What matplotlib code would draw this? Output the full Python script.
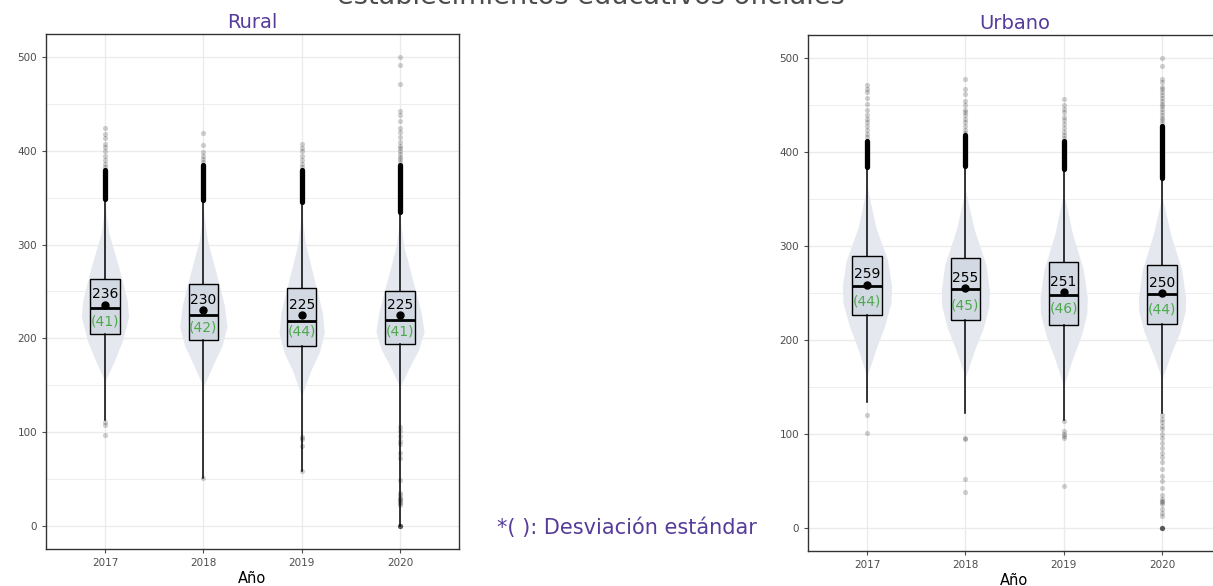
import numpy as np
import matplotlib.pyplot as plt

plt.rcParams['font.family'] = ['DejaVu Sans']

anios = ["2017", "2018", "2019", "2020"]

# ---- Rural ----
rural_media = [236, 230, 225, 225]
rural_de = [41, 42, 44, 41]
rural_q1 = [204.7, 198.3, 192, 194]
rural_mediana = [232, 225, 219, 219.6]
rural_q3 = [263, 258, 253.4, 251]
rural_bigote_inf = [113, 51, 58, 0]
rural_bigote_sup = [349, 348, 346, 335]
rural_denso_sup = [380, 385, 380, 385]  # zona de atipicos superpuestos
rural_atipicos = [
    [97, 107, 111, 383, 386, 390, 395, 400, 404, 408, 414, 418, 425],
    [51, 388, 391, 395, 399, 406, 419],
    [58, 85, 92, 95, 383, 386, 390, 395, 400, 403, 407],
    [0, 0, 0, 0, 0, 22, 24, 25, 27, 28, 30, 33, 35, 49, 72, 77, 87, 90, 96, 101, 105,
     388, 391, 394, 397, 400, 403, 405, 410, 415, 420, 425, 432, 438, 443, 472, 492, 500],
]
rural_violin_y = [
    [154, 177, 198, 223, 241, 276, 312, 342],
    [148, 172, 192, 212, 235, 270, 305, 337],
    [138, 165, 185, 206, 228, 262, 300, 333],
    [148, 170, 188, 207, 228, 262, 298, 328],
]
rural_violin_ancho = [
    [0, 0.10, 0.18, 0.24, 0.225, 0.14, 0.04, 0],
    [0, 0.10, 0.19, 0.24, 0.215, 0.13, 0.04, 0],
    [0, 0.09, 0.18, 0.23, 0.21, 0.13, 0.04, 0],
    [0, 0.10, 0.19, 0.245, 0.215, 0.13, 0.04, 0],
]

# ---- Urbano ----
urbano_media = [259, 255, 251, 250]
urbano_de = [44, 45, 46, 44]
urbano_q1 = [227, 220.8, 215.8, 217.3]
urbano_mediana = [258, 254, 248, 248.5]
urbano_q3 = [290, 287, 283, 280]
urbano_bigote_inf = [134, 122, 115, 122]
urbano_bigote_sup = [384, 385, 382, 373]
urbano_denso_sup = [412, 418, 412, 428]
urbano_atipicos = [
    [101, 120, 416, 420, 424, 428, 432, 436, 440, 445, 452, 458, 464, 468, 472],
    [38, 52, 94, 96, 421, 424, 428, 432, 436, 440, 443, 445, 450, 455, 462, 468, 478],
    [44, 95, 98, 100, 103, 114, 415, 418, 422, 426, 430, 434, 438, 443, 446, 450, 457],
    [0, 0, 0, 0, 0, 12, 16, 20, 25, 27, 28, 30, 35, 42, 50, 55, 62, 70, 75, 80, 85,
     90, 95, 100, 105, 108, 112, 116, 120, 431, 434, 437, 440, 443, 446, 449, 452,
     455, 458, 461, 464, 467, 470, 475, 478, 492, 501],
]
urbano_violin_y = [
    [161, 190, 215, 240, 258, 285, 320, 364],
    [160, 188, 212, 236, 252, 280, 318, 360],
    [151, 180, 205, 228, 245, 275, 313, 357],
    [158, 185, 208, 230, 245, 275, 312, 353],
]
urbano_violin_ancho = [
    [0, 0.09, 0.18, 0.245, 0.25, 0.21, 0.09, 0],
    [0, 0.09, 0.18, 0.24, 0.245, 0.21, 0.09, 0],
    [0, 0.09, 0.18, 0.235, 0.24, 0.20, 0.09, 0],
    [0, 0.09, 0.18, 0.235, 0.24, 0.20, 0.09, 0],
]

morado = '#553c9a'
verde = '#4caa4c'
gris_texto = '#4d4d4d'


def dibujar_panel(ax, titulo, media, de, q1, mediana, q3, b_inf, b_sup, denso,
                  atipicos, violin_y, violin_ancho):
    pos = np.arange(1, len(anios) + 1)

    # violines
    for p, vy, vw in zip(pos, violin_y, violin_ancho):
        vw = np.array(vw)
        ax.fill_betweenx(vy, p - vw, p + vw, color='#e5e8ef', lw=0, zorder=1)

    # zona densa de atipicos (puntos superpuestos)
    for p, lo, hi in zip(pos, b_sup, denso):
        ax.plot([p, p], [lo, hi], color='black', lw=3.8, solid_capstyle='round', zorder=3)

    # atipicos sueltos
    for p, vals in zip(pos, atipicos):
        ax.scatter([p] * len(vals), vals, s=14, color='black', alpha=0.18,
                   linewidths=0, zorder=3)

    stats = []
    for i in range(len(anios)):
        stats.append(dict(med=mediana[i], q1=q1[i], q3=q3[i], whislo=b_inf[i],
                          whishi=b_sup[i], mean=media[i], fliers=[]))
    ax.bxp(stats, positions=pos, widths=0.3, patch_artist=True, showfliers=False,
           showcaps=False, showmeans=True, manage_ticks=False,
           boxprops=dict(facecolor='#d2d9e2', edgecolor='black', lw=1),
           medianprops=dict(color='black', lw=2),
           whiskerprops=dict(color='black', lw=1.1),
           meanprops=dict(marker='o', markerfacecolor='black', markeredgecolor='black',
                          markersize=5),
           zorder=4)

    for p, m, d in zip(pos, media, de):
        ax.text(p, m + 11, str(m), ha='center', va='center', fontsize=10,
                color='black', zorder=6)
        ax.text(p, m - 18, "(" + str(d) + ")", ha='center', va='center', fontsize=10,
                color=verde, zorder=6)

    ax.set_xlim(0.4, 4.6)
    ax.set_ylim(-25, 525)
    ax.set_xticks(pos)
    ax.set_xticklabels(anios)
    ax.set_yticks(np.arange(0, 501, 100))
    ax.set_yticks(np.arange(50, 501, 100), minor=True)
    ax.grid(True, which='major', color='#ebebeb', lw=1.0, zorder=0)
    ax.grid(True, which='minor', axis='y', color='#ebebeb', lw=0.6, zorder=0)
    ax.set_axisbelow(True)
    ax.tick_params(axis='both', which='major', labelsize=7.5, labelcolor=gris_texto,
                   color=gris_texto, length=3, width=0.8)
    ax.tick_params(axis='y', which='minor', length=0)
    for s in ax.spines.values():
        s.set_color('#333333')
        s.set_linewidth(1.0)
    ax.set_xlabel("Año", fontsize=10.5, labelpad=2)
    ax.set_title(titulo, color=morado, fontsize=14, pad=4)


fig = plt.figure(figsize=(12.13, 5.86), dpi=100)
ax1 = fig.add_axes([0.0379, 0.0631, 0.3405, 0.879])
ax2 = fig.add_axes([0.6661, 0.0597, 0.3405, 0.8805])

dibujar_panel(ax1, "Rural", rural_media, rural_de, rural_q1, rural_mediana, rural_q3,
              rural_bigote_inf, rural_bigote_sup, rural_denso_sup, rural_atipicos,
              rural_violin_y, rural_violin_ancho)
dibujar_panel(ax2, "Urbano", urbano_media, urbano_de, urbano_q1, urbano_mediana, urbano_q3,
              urbano_bigote_inf, urbano_bigote_sup, urbano_denso_sup, urbano_atipicos,
              urbano_violin_y, urbano_violin_ancho)

# el titulo queda cortado arriba, igual que en la imagen original
fig.text(0.487, 0.994, "establecimientos educativos oficiales", ha='center', va='baseline',
         fontsize=19.5, color=gris_texto)
fig.text(0.41, 0.099, "*( ): Desviación estándar", ha='left', va='center',
         fontsize=15, color=morado)

fig.savefig("out.png", dpi=100)
